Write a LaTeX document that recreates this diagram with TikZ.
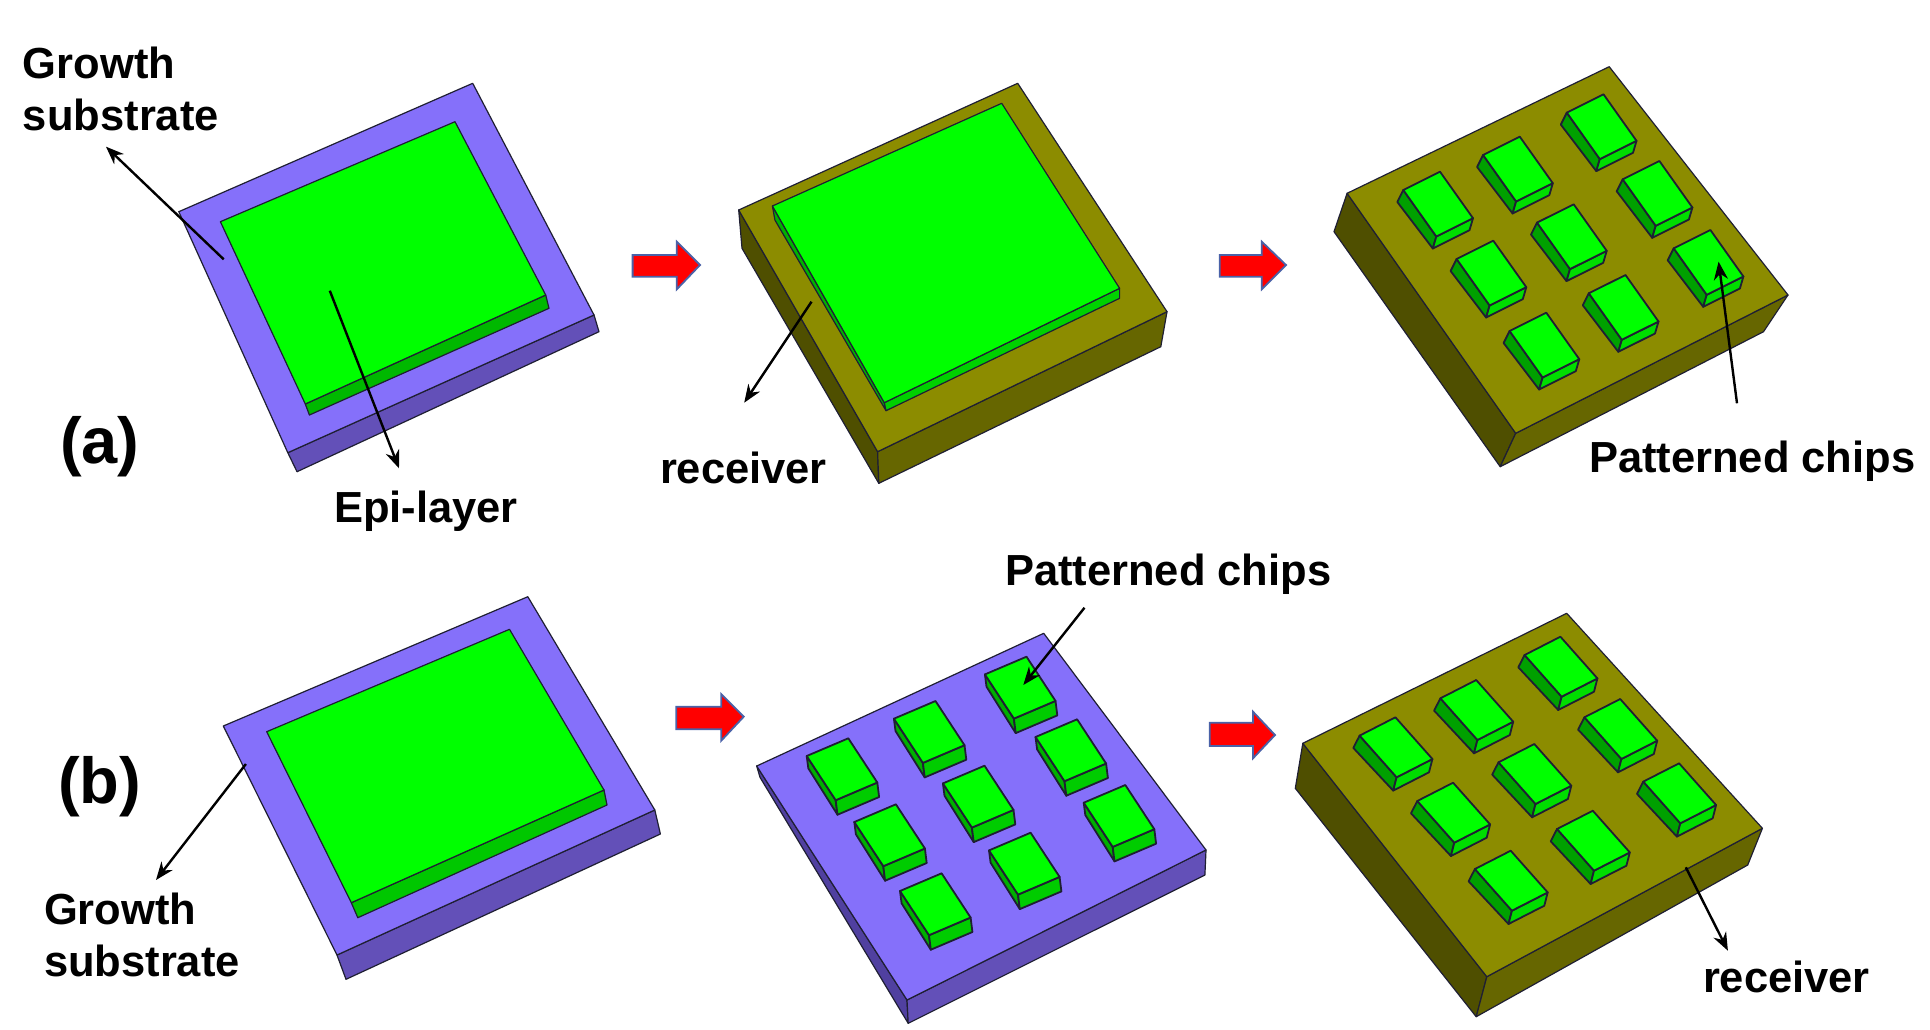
\documentclass[tikz,border=0pt]{standalone}
\usepackage{fontspec}
\setmainfont{Liberation Sans}
\usetikzlibrary{arrows.meta}
\definecolor{purpletop}{HTML}{8570FA}
\definecolor{purplefront}{HTML}{6350B8}
\definecolor{purpleleft}{HTML}{5040A0}
\definecolor{olivetop}{HTML}{8C8C00}
\definecolor{olivefront}{HTML}{666600}
\definecolor{oliveleft}{HTML}{4F4F00}
\definecolor{greentop}{HTML}{00FF00}
\definecolor{edgecol}{HTML}{1F1F33}
\definecolor{arrowedge}{HTML}{4A62A8}
\definecolor{chipfrontA}{HTML}{00DD00}
\definecolor{chipleftA}{HTML}{00A000}
\definecolor{chipfrontB}{HTML}{00CC00}
\definecolor{chipleftB}{HTML}{00B000}
\tikzset{
  face/.style={draw=edgecol,line width=1.2pt,line join=round},
  chipface/.style={draw=edgecol,line width=1.8pt,line join=round},
  ptop/.style={face,fill=purpletop},
  pfront/.style={face,fill=purplefront},
  pleft/.style={face,fill=purpleleft},
  otop/.style={face,fill=olivetop},
  ofront/.style={face,fill=olivefront},
  oleft/.style={face,fill=oliveleft},
  gtop/.style={face,fill=greentop},
  lead/.style={draw=black,line width=2.4pt,-{Stealth[length=18pt,width=14pt]}},
  redarrow/.style={fill=red,draw=arrowedge,line width=1.8pt,line join=miter},
  lab/.style={inner sep=0pt,outer sep=0pt,anchor=base west,font=\bfseries\fontsize{43.5}{52}\selectfont},
  tag/.style={inner sep=0pt,outer sep=0pt,anchor=base west,font=\bfseries\fontsize{65}{78}\selectfont}
}
% chip geometry: left vector, right vector, and the drop of the left, bottom, right corners
\newcommand{\chipset}[8]{%
  \pgfmathsetmacro{\Lx}{#1}\pgfmathsetmacro{\Ly}{#2}%
  \pgfmathsetmacro{\Rx}{#3}\pgfmathsetmacro{\Ry}{#4}%
  \pgfmathsetmacro{\Bx}{#1+#3}\pgfmathsetmacro{\By}{#2+#4}%
  \pgfmathsetmacro{\LLx}{#1+#5}\pgfmathsetmacro{\LLy}{#2+#6}%
  \pgfmathsetmacro{\BLx}{#1+#3+#7}\pgfmathsetmacro{\BLy}{#2+#4+#8}%
  \pgfmathsetmacro{\RLx}{#3+#7}\pgfmathsetmacro{\RLy}{#4+#8}%
}
\newcommand{\chipat}[4]{% x y leftcolour frontcolour
  \begin{scope}[shift={(#1,#2)}]
    \path[chipface,fill=#3] (\Lx,\Ly) -- (\Bx,\By) -- (\BLx,\BLy) -- (\LLx,\LLy) -- cycle;
    \path[chipface,fill=#4] (\Bx,\By) -- (\Rx,\Ry) -- (\RLx,\RLy) -- (\BLx,\BLy) -- cycle;
    \path[chipface,fill=greentop] (0,0) -- (\Lx,\Ly) -- (\Bx,\By) -- (\Rx,\Ry) -- cycle;
  \end{scope}}
\begin{document}
\begin{tikzpicture}[x=1pt,y=-1pt]
\useasboundingbox[fill=white] (0,0) rectangle (1930,1029);

% ---------- (a) first block
\path[pfront] (287.8,452.7) -- (594,315) -- (599,331.7) -- (297,471.7) -- cycle;
\path[ptop] (472.7,83.3) -- (178.8,211.7) -- (287.8,452.7) -- (594,315) -- cycle;
\path[face,fill=green!72!black] (305.3,404) -- (545.7,295) -- (549,308.3) -- (309.4,415) -- cycle;
\path[gtop] (455,121.7) -- (220.4,221.7) -- (305.3,404) -- (545.7,295) -- cycle;

% ---------- (a) second block
\path[oleft] (738.7,210) -- (742,248.3) -- (878.8,483.3) -- (877.6,451.7) -- cycle;
\path[ofront] (877.6,451.7) -- (1167,311.7) -- (1160.8,346.7) -- (878.8,483.3) -- cycle;
\path[otop] (1017.7,83.3) -- (738.7,210) -- (877.6,451.7) -- (1167,311.7) -- cycle;
\path[face,fill=green!70!black] (772.4,206) -- (884.3,402.7) -- (886,410.7) -- (774.9,220) -- cycle;
\path[face,fill=green!82!black] (884.3,402.7) -- (1119.6,288.3) -- (1119.6,298.3) -- (886,410.7) -- cycle;
\path[gtop] (1001.7,103.3) -- (772.4,206) -- (884.3,402.7) -- (1119.6,288.3) -- cycle;

% ---------- (a) third block
\path[oleft] (1347.1,193.3) -- (1334,231.7) -- (1500.2,466.7) -- (1515.7,433.3) -- cycle;
\path[ofront] (1515.7,433.3) -- (1788,295) -- (1763.5,331.7) -- (1500.2,466.7) -- cycle;
\path[otop] (1609.2,66.7) -- (1347.1,193.3) -- (1515.7,433.3) -- (1788,295) -- cycle;
\chipset{-36.7}{18.3}{33}{46.5}{-6}{12}{-3.5}{12}
\foreach \cx/\cy in {1440/171.7,1519.8/136.7,1603.5/94.3,1493.3/240.7,1573.7/204.3,1659.4/161,1546.3/312.7,1625.5/275,1710.4/230}
  {\chipat{\cx}{\cy}{chipleftA}{chipfrontA}}

% ---------- (b) first block
\path[pfront] (337,955) -- (654.8,810) -- (660.4,834) -- (346,979.3) -- cycle;
\path[ptop] (527.8,596.7) -- (223.3,726) -- (337,955) -- (654.8,810) -- cycle;
\path[face,fill=green!78!black] (351.3,902.7) -- (604,790) -- (607,805) -- (357.8,917.7) -- cycle;
\path[gtop] (509.5,629.3) -- (266.7,731.7) -- (351.3,902.7) -- (604,790) -- cycle;

% ---------- (b) second block
\path[pleft] (756.7,766) -- (760,777.3) -- (908.2,1023.3) -- (907,1000) -- cycle;
\path[pfront] (907,1000) -- (1206,850) -- (1204.9,875) -- (908.2,1023.3) -- cycle;
\path[ptop] (1043.7,633.3) -- (756.7,766) -- (907,1000) -- (1206,850) -- cycle;
\chipset{-41.6}{17.7}{29}{44.2}{1.6}{12.3}{1.8}{14.5}
\foreach \cx/\cy in {848.3/738.3,935.5/701,1026.5/656.7,895.9/804.3,984.5/765.7,1077.1/719.3,941.6/873.3,1030.6/832.7,1125.3/785}
  {\chipat{\cx}{\cy}{chipleftB}{chipfrontB}}

% ---------- (b) third block
\path[oleft] (1302.8,743.3) -- (1295.3,788.3) -- (1476.2,1016.7) -- (1486.8,976.7) -- cycle;
\path[ofront] (1486.8,976.7) -- (1762.4,828.3) -- (1747.7,865) -- (1476.2,1016.7) -- cycle;
\path[otop] (1566.7,613.3) -- (1302.8,743.3) -- (1486.8,976.7) -- (1762.4,828.3) -- cycle;
\chipset{-35.8}{18.3}{37}{41.7}{-6.3}{12.3}{-3.4}{13.3}
\foreach \cx/\cy in {1395.4/717.3,1476.2/680,1560.4/636.7,1453.1/782.7,1534.3/744,1620.2/699,1510.7/850.7,1592.8/810.7,1679.1/763.3}
  {\chipat{\cx}{\cy}{chipleftA}{chipfrontA}}

% ---------- red process arrows
\path[redarrow] (632.6,255) -- (676.8,255) -- (676.8,241.7) -- (700,265) -- (676.8,289.3) -- (676.8,276.7) -- (632.6,276.7) -- cycle;
\path[redarrow] (1219.8,255) -- (1261.8,255) -- (1261.8,241.7) -- (1286,265) -- (1261.8,289.3) -- (1261.8,276.7) -- (1219.8,276.7) -- cycle;
\path[redarrow] (676.3,706.7) -- (721.2,706.7) -- (721.2,694) -- (743.7,716.7) -- (721.2,740.7) -- (721.2,729.3) -- (676.3,729.3) -- cycle;
\path[redarrow] (1209.8,722.7) -- (1253,722.7) -- (1253,711.7) -- (1275,735) -- (1253,758.3) -- (1253,746) -- (1209.8,746) -- cycle;

% ---------- labels
\node[tag] (tagA) at (60,463) {(a)};
\node[tag] (tagB) at (58,803) {(b)};
\node[lab] (growthA) at (23,78) {Growth};
\node[lab] (substrateA) at (23,130) {substrate};
\node[lab] (epi) at (334,522) {Epi-layer};
\node[lab] (recvA) at (660,483) {receiver};
\node[lab] (chipsA) at (1589,472) {Patterned chips};
\node[lab] (chipsB) at (1005,585) {Patterned chips};
\node[lab] (growthB) at (44,924.3) {Growth};
\node[lab] (substrateB) at (44,976) {substrate};
\node[lab] (recvB) at (1703,992) {receiver};

% ---------- leader lines
\coordinate (s1) at (223.7,259.3); \coordinate (e1) at (106,146.7);
\coordinate (s2) at (329.8,290.7); \coordinate (e2) at (399,468.3);
\coordinate (s3) at (811.5,301.7); \coordinate (e3) at (744.2,402.7);
\coordinate (s4) at (1737,403.3);  \coordinate (e4) at (1718.6,261.7);
\coordinate (s5) at (245.9,764);   \coordinate (e5) at (156,880);
\coordinate (s6) at (1084.5,607.7);\coordinate (e6) at (1023.3,685);
\coordinate (s7) at (1685.8,867.3);\coordinate (e7) at (1727.9,950.7);
\foreach \i in {1,...,7} {\draw[lead] (s\i) -- (e\i);}
\end{tikzpicture}
\end{document}
